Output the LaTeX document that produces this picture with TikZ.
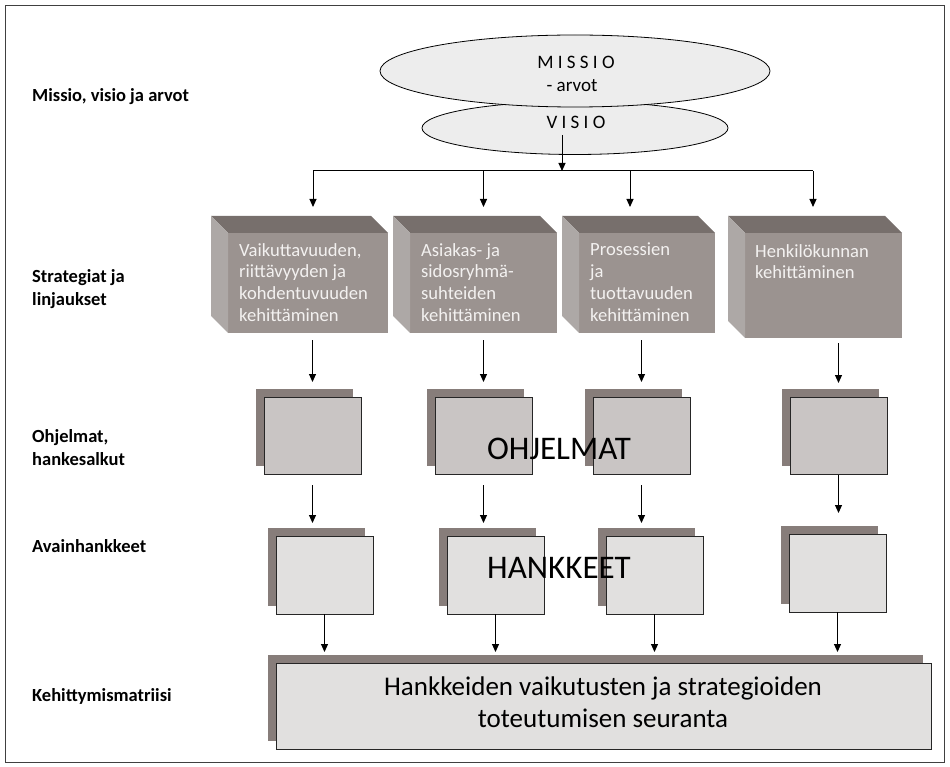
\documentclass[tikz,border=0pt]{standalone}
\usepackage{fontspec}
\setmainfont{Carlito}
\usetikzlibrary{arrows.meta,calc,shadows,shapes.geometric}
\definecolor{stratfrontc}{HTML}{9B9390}
\definecolor{strattopc}{HTML}{776F6C}
\definecolor{stratsidec}{HTML}{ADA8A6}
\definecolor{strattextc}{HTML}{F3F1F0}
\definecolor{progc}{HTML}{C9C5C4}
\definecolor{hankec}{HTML}{E1E0DF}
\definecolor{shadowc}{HTML}{877D7A}
\definecolor{ellc}{HTML}{EDEDED}
\begin{document}
\begin{tikzpicture}[x=1pt,y=-1pt,
  arr/.style={line width=1pt,-{Triangle[length=8pt,width=7pt]}},
  stratfront/.style={fill=stratfrontc,draw=none,inner sep=0pt,outer sep=0pt,anchor=north west},
  strattext/.style={anchor=north west,inner sep=0pt,align=left,text=strattextc,font=\fontsize{18.6}{21.7}\selectfont},
  smallbox/.style={draw=black!85,line width=0.9pt,inner sep=0pt,outer sep=0pt,anchor=north west,
     general shadow={shadow xshift=-8pt,shadow yshift=8pt,fill=shadowc,draw=none}},
  progbox/.style={smallbox,fill=progc,minimum width=97pt,minimum height=77pt},
  hankbox/.style={smallbox,fill=hankec,minimum width=97pt,minimum height=78pt},
  lab/.style={inner sep=0pt,align=left,font=\bfseries\fontsize{18.5}{23}\selectfont},
  elltext/.style={inner sep=0pt,font=\fontsize{19}{23}\selectfont},
  bigtext/.style={inner sep=0pt,font=\fontsize{33}{36}\selectfont}]
\useasboundingbox (0,0) rectangle (950,767);
\draw[black!75,line width=1pt] (5,6) rectangle (944,762);

% left labels
\node[lab,anchor=base west] (l1) at (32,102) {Missio, visio ja arvot};
\node[lab,anchor=north west] (l2) at (32,269.5) {Strategiat ja\\linjaukset};
\node[lab,anchor=north west] (l3) at (32,429.5) {Ohjelmat,\\hankesalkut};
\node[lab,anchor=base west] (l4) at (32,552) {Avainhankkeet};
\node[lab,anchor=base west] (l5) at (32,701) {Kehittymismatriisi};

% ellipses
\node[ellipse,draw,line width=0.8pt,fill=ellc,minimum width=306pt,minimum height=53pt,inner sep=0pt] (visio) at (575,128) {};
\node[ellipse,draw,line width=0.8pt,fill=ellc,minimum width=390pt,minimum height=72pt,inner sep=0pt] (missio) at (575,71) {};
\node[elltext,anchor=base] (mt) at (576,69) {M I S S I O};
\node[elltext,anchor=base] (at) at (572,92) {- arvot};
\node[elltext,anchor=base] (vt) at (576,128.5) {V I S I O};

% strategy boxes
\def\dep{17}
\node[stratfront,minimum width=160pt,minimum height=100pt] (S1) at (228,233) {};
\node[stratfront,minimum width=147pt,minimum height=100pt] (S2) at (410,233) {};
\node[stratfront,minimum width=136pt,minimum height=100pt] (S3) at (579,233) {};
\node[stratfront,minimum width=157pt,minimum height=105pt] (S4) at (745,233) {};
\foreach \s in {S1,S2,S3,S4}{
  \fill[strattopc] (\s.north west) -- ++(-\dep,-\dep) -- ($(\s.north east)+(-\dep,-\dep)$) -- (\s.north east) -- cycle;
  \fill[stratsidec] (\s.north west) -- ++(-\dep,-\dep) -- ($(\s.south west)+(-\dep,-\dep)$) -- (\s.south west) -- cycle;
}
\node[strattext] (st1) at ($(S1.north west)+(11,10)$) {Vaikuttavuuden,\\riittävyyden ja\\kohdentuvuuden\\kehittäminen};
\node[strattext] (st2) at ($(S2.north west)+(11,10)$) {Asiakas- ja\\sidosryhmä-\\suhteiden\\kehittäminen};
\node[strattext] (st3) at ($(S3.north west)+(11,10)$) {Prosessien\\ja\\tuottavuuden\\kehittäminen};
\node[strattext] (st4) at ($(S4.north west)+(10,11)$) {Henkilökunnan\\kehittäminen};

% program boxes
\node[progbox] (P1) at (264,397) {};
\node[progbox] (P2) at (435,397) {};
\node[progbox] (P3) at (593,397) {};
\node[progbox] (P4) at (790,397) {};

% project boxes
\node[hankbox] (H1) at (276,536) {};
\node[hankbox] (H2) at (447,536) {};
\node[hankbox] (H3) at (606,536) {};
\node[hankbox] (H4) at (789,534) {};

% matrix
\node[smallbox,fill=hankec,minimum width=655pt,minimum height=86pt] (M) at (276,663) {};
\node[inner sep=0pt,anchor=north,align=center,font=\fontsize{27}{32}\selectfont] (mtext) at (603,677) {Hankkeiden vaikutusten ja strategioiden\\toteutumisen seuranta};

% big overlay texts
\node[bigtext,anchor=base] (ohj) at (559,459) {OHJELMAT};
\node[bigtext,anchor=base] (han) at (559,578) {HANKKEET};

% connectors
\coordinate (hl) at (562,171);
\coordinate (t1) at ($(S1.north)+(5,-26)$);
\coordinate (t2) at ($(S2.north)+(0,-26)$);
\coordinate (t3) at ($(S3.north)+(-17,-26)$);
\coordinate (t4) at ($(S4.north)+(-10.5,-26)$);
\draw[arr] ($(visio.center)+(-13,7)$) -- (hl);
\draw[line width=1pt] (t1 |- hl) -- (t4 |- hl);
\foreach \t in {t1,t2,t3,t4}{\draw[arr] (\t |- hl) -- (\t);}

\foreach \i in {1,2,3}{
  \draw[arr] ($(P\i.north |- S\i.south)+(0,7)$) -- ($(P\i.north)+(0,-15)$);
  \draw[arr] ($(P\i.south)+(0,11)$) -- ($(P\i.south |- H\i.north)+(0,-13)$);
}
\draw[arr] ($(P4.north |- S4.south)+(0,5)$) -- ($(P4.north)+(0,-14)$);
\draw[arr] ($(P4.south)+(0,1)$) -- ($(P4.south |- H4.north)+(0,-21)$);
\foreach \i in {1,2,3,4}{
  \draw[arr] (H\i.south) -- ($(H\i.south |- M.north)+(0,-11)$);
}
\end{tikzpicture}
\end{document}
